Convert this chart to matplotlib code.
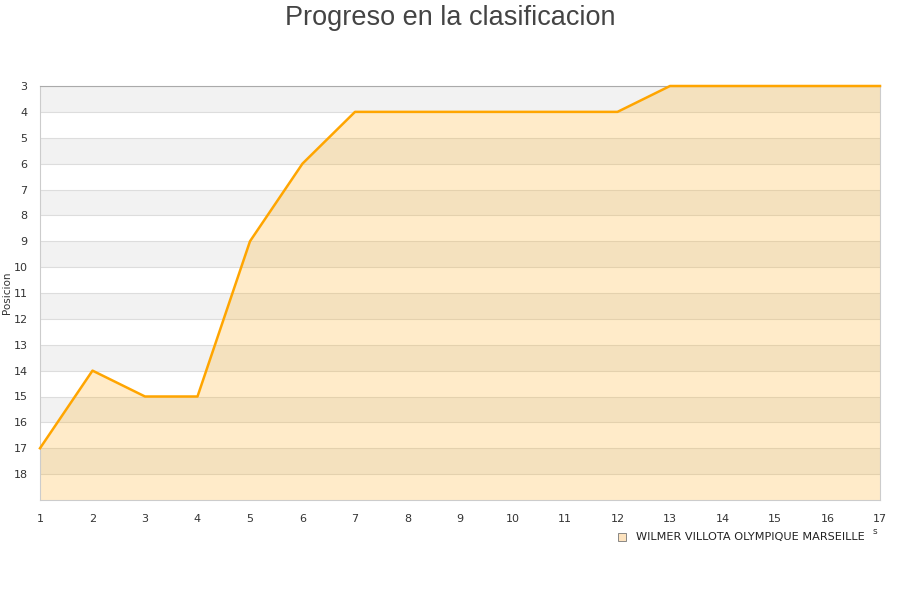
import matplotlib.pyplot as plt
import matplotlib.patches as mpatches

# Datos de la clasificacion por jornada
jornadas = [1, 2, 3, 4, 5, 6, 7, 8, 9, 10, 11, 12, 13, 14, 15, 16, 17]
posiciones = [17, 14, 15, 15, 9, 6, 4, 4, 4, 4, 4, 4, 3, 3, 3, 3, 3]
etiquetas_y = list(range(3, 19))
jugador = 'WILMER VILLOTA OLYMPIQUE MARSEILLE'

fig = plt.figure(figsize=(9, 6), dpi=100)
ax = fig.add_axes([40 / 900, 100 / 600, 840 / 900, 414 / 600])

# Bandas alternas de fondo
for p in range(3, 19, 2):
    ax.axhspan(p, p + 1, color='#f2f2f2', zorder=0, lw=0)
for p in etiquetas_y:
    ax.axhline(p, color='#dddddd', lw=0.8, zorder=1)

# Area y linea
ax.fill_between(jornadas, posiciones, 19, color='#ffa500', alpha=0.21, lw=0, zorder=2)
ax.plot(jornadas, posiciones, color='#ffa500', lw=1.8, zorder=3, clip_on=False)

ax.set_xlim(1, 17)
ax.set_ylim(19, 3)
ax.set_xticks(jornadas)
ax.set_yticks(etiquetas_y)
ax.tick_params(axis='both', length=0, labelsize=8, colors='#333333', pad=8)
ax.tick_params(axis='y', pad=9)
ax.tick_params(axis='x', pad=10)
for s in ax.spines.values():
    s.set_color('#cccccc')
ax.spines['top'].set_color('#aaaaaa')

ax.set_ylabel('Posicion', fontsize=7.5, color='#333333')
ax.yaxis.set_label_coords(-28 / 840, 0.5)

fig.text(0.5, 1 - 18 / 600, 'Progreso en la clasificacion', ha='center', va='center',
         fontsize=19.5, color='#444444', family='Liberation Sans')

# Leyenda
fig.patches.append(mpatches.Rectangle((618 / 900, 1 - 541 / 600), 8 / 900, 8 / 600,
                                      transform=fig.transFigure, facecolor='#fde3bf',
                                      edgecolor='#777777', lw=0.6))
fig.text(636 / 900, 1 - 537 / 600, jugador, va='center', fontsize=8.1, color='#222222')
fig.text(873 / 900, 1 - 532 / 600, 's', va='center', fontsize=6.5, color='#333333')

fig.savefig('out.png', dpi=100)
